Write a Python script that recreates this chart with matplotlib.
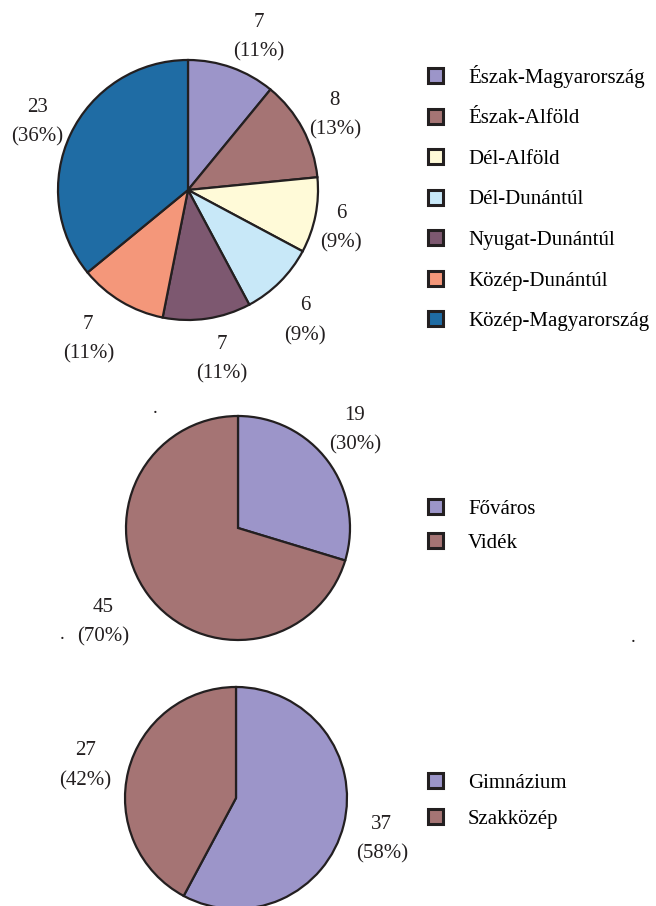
import matplotlib
matplotlib.use("Agg")
import numpy as np
import matplotlib.pyplot as plt

plt.rcParams['font.family'] = ['Liberation Serif', 'DejaVu Serif']

regions = ["Észak-Magyarország", "Észak-Alföld", "Dél-Alföld", "Dél-Dunántúl",
           "Nyugat-Dunántúl", "Közép-Dunántúl", "Közép-Magyarország"]
region_counts = [7, 8, 6, 6, 7, 7, 23]
region_pct = [11, 13, 9, 9, 11, 11, 36]
region_colors = ["#9c95c9", "#a57474", "#fffad8", "#c8e8f8", "#7d5870", "#f4977a", "#1f6ca4"]

places = ["Főváros", "Vidék"]
place_counts = [19, 45]
place_pct = [30, 70]

schools = ["Gimnázium", "Szakközép"]
school_counts = [37, 27]
school_pct = [58, 42]
two_colors = ["#9c95c9", "#a57474"]

EDGE = "#231f20"
FS = 15
W, H = 656, 906

fig = plt.figure(figsize=(W / 100, H / 100), dpi=100)


def px_axes(cx, cy, r):
    return fig.add_axes([(cx - r) / W, 1 - (cy + r) / H, 2 * r / W, 2 * r / H])


def draw(cx, cy, r, vals, pct, colors, names, ldists, lshift, ydrop,
         leg_x, leg_y, lspacing):
    ax = px_axes(cx, cy, r)
    labels = [f"{v}\n({p}%)" for v, p in zip(vals, pct)]
    wedges, texts = ax.pie(vals, colors=colors, startangle=90, counterclock=False,
                           labels=labels, labeldistance=1.3,
                           wedgeprops=dict(edgecolor=EDGE, linewidth=1.6),
                           textprops=dict(fontsize=FS, color="#231f20"))
    for w, t, d, s in zip(wedges, texts, ldists, lshift):
        # s: clockwise angular shift of the label (degrees)
        th = np.deg2rad((w.theta1 + w.theta2) / 2 - s)
        t.set_position((d * np.cos(th), d * np.sin(th) - ydrop / r))
        t.set_ha("center")
        t.set_va("center")
        t.set_linespacing(1.75)
        t.set_clip_on(False)
    ax.set_xlim(-1.0, 1.0)
    ax.set_ylim(-1.0, 1.0)
    ax.set_aspect("equal")
    ax.axis("off")
    leg = fig.legend(wedges, names, loc="center left",
                     bbox_to_anchor=(leg_x / W, 1 - leg_y / H),
                     frameon=False, fontsize=FS, borderpad=0, borderaxespad=0,
                     handlelength=0.72, handleheight=0.72, handletextpad=1.2,
                     labelspacing=lspacing)
    for h in leg.legend_handles:
        h.set_linewidth(2.2)
        h.set_edgecolor(EDGE)
    return ax


draw(188, 190, 130, region_counts, region_pct, region_colors, regions,
     [1.32, 1.28, 1.21, 1.33, 1.30, 1.36, 1.28],
     [4.8, 0, 1.5, 2.3, -3.2, 3.4, 0], 3.5, 428, 198, 1.0)
draw(238, 528, 112, place_counts, place_pct, two_colors, places,
     [1.37, 1.46], [-3.9, 2.2], 2.0, 428, 526, 0.7)
draw(236, 798, 111, school_counts, school_pct, two_colors, schools,
     [1.36, 1.39], [0.8, -1.1], 2.5, 428, 801, 0.75)

for (x, y) in [(155, 413), (62, 639), (633, 642)]:
    fig.text(x / W, 1 - y / H, ".", fontsize=14, ha="center", va="baseline", color="#231f20")

fig.savefig("out.png", dpi=100)
